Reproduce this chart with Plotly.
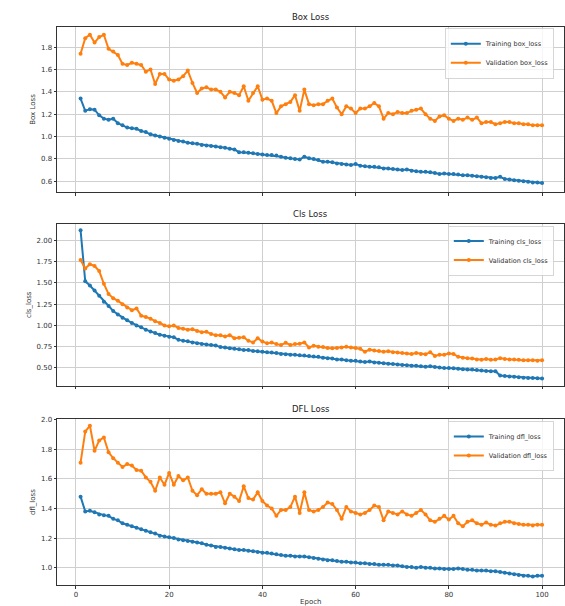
import plotly.graph_objects as go

epochs = list(range(1, 101))

train_box = [1.34, 1.23, 1.245, 1.24, 1.19, 1.16, 1.15, 1.16, 1.12, 1.10,
             1.08, 1.075, 1.07, 1.05, 1.04, 1.02, 1.01, 1.00, 0.99, 0.98,
             0.97, 0.96, 0.955, 0.945, 0.94, 0.935, 0.925, 0.92, 0.915, 0.91,
             0.905, 0.90, 0.89, 0.885, 0.86, 0.86, 0.855, 0.85, 0.845, 0.84,
             0.835, 0.835, 0.83, 0.82, 0.81, 0.805, 0.80, 0.795, 0.82, 0.805,
             0.80, 0.79, 0.775, 0.775, 0.77, 0.76, 0.755, 0.75, 0.745, 0.755,
             0.74, 0.735, 0.73, 0.73, 0.725, 0.715, 0.715, 0.71, 0.705, 0.70,
             0.705, 0.695, 0.69, 0.685, 0.685, 0.68, 0.675, 0.665, 0.67, 0.665,
             0.665, 0.66, 0.655, 0.655, 0.65, 0.645, 0.64, 0.635, 0.63, 0.63,
             0.64, 0.62, 0.615, 0.61, 0.605, 0.60, 0.595, 0.59, 0.59, 0.585]

val_box = [1.74, 1.88, 1.91, 1.84, 1.89, 1.91, 1.785, 1.76, 1.73, 1.65,
           1.64, 1.66, 1.65, 1.64, 1.58, 1.60, 1.47, 1.56, 1.56, 1.51,
           1.50, 1.51, 1.54, 1.59, 1.48, 1.39, 1.43, 1.44, 1.42, 1.42,
           1.40, 1.35, 1.40, 1.39, 1.37, 1.45, 1.32, 1.39, 1.45, 1.33,
           1.34, 1.32, 1.21, 1.27, 1.29, 1.31, 1.37, 1.23, 1.42, 1.29,
           1.28, 1.29, 1.29, 1.32, 1.34, 1.26, 1.20, 1.27, 1.25, 1.21,
           1.25, 1.25, 1.27, 1.30, 1.27, 1.16, 1.21, 1.20, 1.22, 1.21,
           1.21, 1.23, 1.24, 1.25, 1.20, 1.16, 1.14, 1.18, 1.19, 1.16,
           1.14, 1.16, 1.15, 1.17, 1.15, 1.17, 1.12, 1.13, 1.13, 1.11,
           1.12, 1.13, 1.13, 1.12, 1.12, 1.11, 1.11, 1.10, 1.10, 1.10]

train_cls = [2.12, 1.52, 1.47, 1.41, 1.35, 1.28, 1.23, 1.17, 1.13, 1.09,
             1.06, 1.03, 1.00, 0.98, 0.95, 0.93, 0.91, 0.89, 0.88, 0.866,
             0.86, 0.83, 0.82, 0.815, 0.80, 0.79, 0.78, 0.775, 0.77, 0.765,
             0.745, 0.74, 0.73, 0.725, 0.72, 0.71, 0.71, 0.70, 0.695, 0.69,
             0.685, 0.68, 0.675, 0.665, 0.66, 0.655, 0.655, 0.65, 0.645, 0.64,
             0.635, 0.63, 0.62, 0.615, 0.61, 0.60, 0.60, 0.59, 0.585, 0.585,
             0.575, 0.57, 0.575, 0.565, 0.56, 0.555, 0.55, 0.545, 0.54, 0.535,
             0.53, 0.525, 0.525, 0.52, 0.515, 0.52, 0.51, 0.505, 0.50, 0.50,
             0.495, 0.49, 0.485, 0.48, 0.48, 0.475, 0.47, 0.465, 0.46, 0.46,
             0.41, 0.405, 0.40, 0.395, 0.39, 0.385, 0.38, 0.38, 0.378, 0.375]

val_cls = [1.77, 1.67, 1.72, 1.70, 1.64, 1.49, 1.37, 1.32, 1.29, 1.25,
           1.21, 1.18, 1.20, 1.115, 1.10, 1.08, 1.05, 1.03, 1.00, 0.99,
           1.00, 0.97, 0.96, 0.95, 0.955, 0.935, 0.92, 0.925, 0.90, 0.885,
           0.885, 0.87, 0.885, 0.85, 0.855, 0.86, 0.82, 0.80, 0.85, 0.81,
           0.79, 0.80, 0.78, 0.77, 0.795, 0.77, 0.78, 0.785, 0.80, 0.74,
           0.76, 0.75, 0.745, 0.735, 0.73, 0.735, 0.74, 0.75, 0.74, 0.735,
           0.725, 0.69, 0.715, 0.705, 0.70, 0.69, 0.695, 0.685, 0.68, 0.675,
           0.67, 0.665, 0.675, 0.665, 0.66, 0.685, 0.64, 0.655, 0.655, 0.67,
           0.665, 0.63, 0.62, 0.615, 0.61, 0.60, 0.595, 0.605, 0.595, 0.60,
           0.615, 0.605, 0.60, 0.60, 0.595, 0.59, 0.59, 0.59, 0.585, 0.59]

train_dfl = [1.48, 1.38, 1.385, 1.375, 1.36, 1.355, 1.35, 1.33, 1.32, 1.30,
             1.29, 1.28, 1.27, 1.26, 1.25, 1.24, 1.23, 1.215, 1.21, 1.205,
             1.20, 1.19, 1.185, 1.18, 1.175, 1.17, 1.165, 1.155, 1.15, 1.14,
             1.14, 1.135, 1.13, 1.125, 1.12, 1.12, 1.115, 1.11, 1.105, 1.10,
             1.10, 1.095, 1.09, 1.085, 1.08, 1.08, 1.075, 1.075, 1.075, 1.07,
             1.065, 1.06, 1.055, 1.05, 1.05, 1.045, 1.04, 1.04, 1.035, 1.035,
             1.03, 1.03, 1.025, 1.025, 1.02, 1.02, 1.02, 1.015, 1.015, 1.01,
             1.005, 1.005, 1.00, 1.005, 1.00, 1.00, 0.995, 0.995, 0.99, 0.99,
             0.99, 0.995, 0.99, 0.985, 0.985, 0.98, 0.98, 0.98, 0.975, 0.975,
             0.97, 0.965, 0.96, 0.955, 0.95, 0.945, 0.945, 0.94, 0.945, 0.945]

val_dfl = [1.71, 1.92, 1.96, 1.79, 1.86, 1.88, 1.78, 1.74, 1.71, 1.68,
           1.70, 1.69, 1.66, 1.655, 1.61, 1.58, 1.52, 1.61, 1.56, 1.64,
           1.56, 1.62, 1.59, 1.61, 1.52, 1.49, 1.53, 1.50, 1.50, 1.50,
           1.51, 1.435, 1.50, 1.48, 1.45, 1.55, 1.47, 1.46, 1.51, 1.45,
           1.42, 1.40, 1.35, 1.39, 1.39, 1.41, 1.48, 1.37, 1.51, 1.39,
           1.38, 1.39, 1.41, 1.44, 1.43, 1.39, 1.33, 1.41, 1.38, 1.37,
           1.36, 1.37, 1.39, 1.42, 1.41, 1.32, 1.38, 1.37, 1.36, 1.38,
           1.36, 1.35, 1.37, 1.39, 1.36, 1.32, 1.31, 1.33, 1.35, 1.325,
           1.35, 1.30, 1.28, 1.31, 1.32, 1.30, 1.29, 1.305, 1.29, 1.285,
           1.30, 1.31, 1.31, 1.30, 1.295, 1.29, 1.29, 1.285, 1.29, 1.29]

x_ticks = [0, 20, 40, 60, 80, 100]
box_ticks = [0.6, 0.8, 1.0, 1.2, 1.4, 1.6, 1.8]
cls_ticks = [0.5, 0.75, 1.0, 1.25, 1.5, 1.75, 2.0]
dfl_ticks = [1.0, 1.2, 1.4, 1.6, 1.8, 2.0]

BLUE = "#1f77b4"
ORANGE = "#ff7f0e"
W, H = 565, 606

panels = [
    dict(title="Box Loss", ylabel="Box Loss", name="box_loss", tr=train_box, va=val_box,
         ticks=box_ticks, fmt=".1f", rng=[0.50, 1.984], top=24.0, bot=193.3),
    dict(title="Cls Loss", ylabel="cls_loss", name="cls_loss", tr=train_cls, va=val_cls,
         ticks=cls_ticks, fmt=".2f", rng=[0.292, 2.196], top=225.3, bot=390.3),
    dict(title="DFL Loss", ylabel="dfl_loss", name="dfl_loss", tr=train_dfl, va=val_dfl,
         ticks=dfl_ticks, fmt=".1f", rng=[0.883, 2.003], top=424.7, bot=593.7),
]

fig = go.Figure()
layout = dict(
    width=W, height=H, margin=dict(l=0, r=0, t=0, b=0),
    paper_bgcolor="white", plot_bgcolor="white",
    font=dict(family="DejaVu Sans", size=7, color="#333333"),
    showlegend=True, annotations=[],
)

x_left = 57.6 / W
for i, p in enumerate(panels):
    k = "" if i == 0 else str(i + 1)
    leg = "legend" if i == 0 else f"legend{i + 1}"
    fig.add_trace(go.Scatter(
        x=epochs, y=p["tr"], mode="lines+markers", name=f"Training {p['name']}",
        line=dict(color=BLUE, width=2), marker=dict(size=4, color=BLUE),
        xaxis=f"x{k}", yaxis=f"y{k}", legend=leg))
    fig.add_trace(go.Scatter(
        x=epochs, y=p["va"], mode="lines+markers", name=f"Validation {p['name']}",
        line=dict(color=ORANGE, width=2), marker=dict(size=4, color=ORANGE),
        xaxis=f"x{k}", yaxis=f"y{k}", legend=leg))
    y0 = 1 - p["bot"] / H
    y1 = 1 - p["top"] / H
    last = i == len(panels) - 1
    layout[f"xaxis{k}"] = dict(
        domain=[x_left, 1.0], range=[-3.95, 104.7], anchor=f"y{k}",
        tickvals=x_ticks, showticklabels=last, ticks="outside", ticklen=3,
        tickcolor="#333333", showgrid=True, gridcolor="#cfcfcf", gridwidth=0.8,
        showline=True, linecolor="#333333", linewidth=0.8, mirror=True,
        zeroline=False, tickfont=dict(size=7),
        title=dict(text="Epoch", font=dict(size=7), standoff=2) if last else None,
    )
    layout[f"yaxis{k}"] = dict(
        domain=[y0, y1], range=p["rng"], anchor=f"x{k}",
        tickvals=p["ticks"], tickformat=p["fmt"], ticks="outside", ticklen=3,
        tickcolor="#333333", showgrid=True, gridcolor="#cfcfcf", gridwidth=0.8,
        showline=True, linecolor="#333333", linewidth=0.8, mirror=True,
        zeroline=False, tickfont=dict(size=7),
        title=dict(text=p["ylabel"], font=dict(size=7), standoff=4),
    )
    layout[leg] = dict(
        x=555 / W, y=1 - (p["top"] + 2) / H, xanchor="right", yanchor="top",
        bgcolor="rgba(255,255,255,0.8)", bordercolor="#cccccc", borderwidth=0.8,
        font=dict(size=6.5), tracegroupgap=0, itemwidth=30,
    )
    layout["annotations"].append(dict(
        text=p["title"], x=(x_left + 1.0) / 2, y=1 - (p["top"] - 3) / H,
        xref="paper", yref="paper", xanchor="center", yanchor="bottom",
        showarrow=False, font=dict(size=8.5, color="#222222")))

fig.update_layout(**layout)
fig.write_html("out.html")
